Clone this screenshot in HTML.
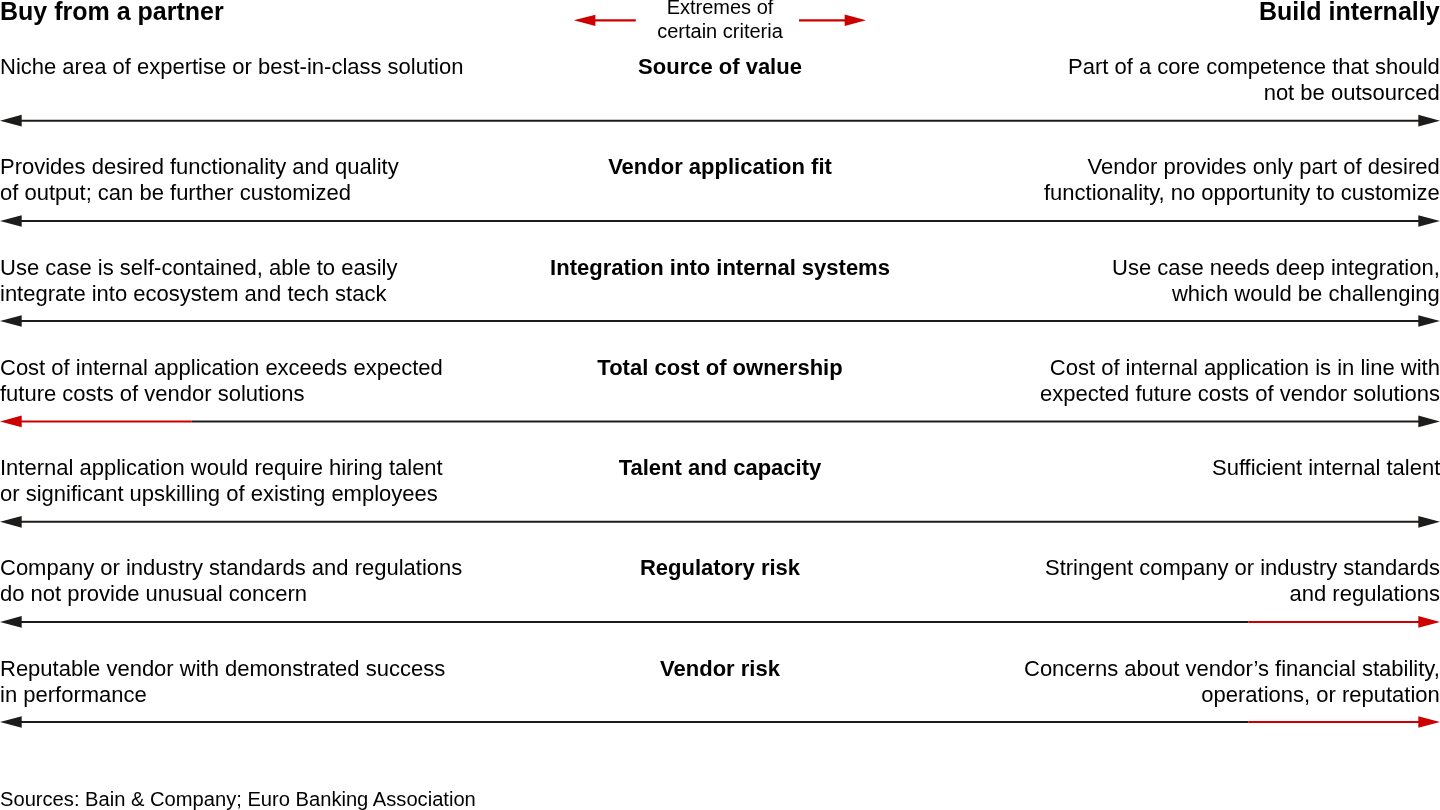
<!DOCTYPE html>
<html><head><meta charset="utf-8"><style>
html,body{margin:0;padding:0;background:#fff;}
body{width:1440px;height:810px;position:relative;overflow:hidden;font-family:"Liberation Sans",sans-serif;color:#000;}
.t{position:absolute;font-size:22px;line-height:26px;white-space:nowrap;}
.l{left:0px;text-align:left;}
.r{right:0px;text-align:right;}
.c{left:420px;width:600px;text-align:center;font-weight:bold;}
.h{position:absolute;font-size:25px;line-height:30px;font-weight:bold;top:-4px;white-space:nowrap;}
.ex{position:absolute;left:620px;width:200px;text-align:center;font-size:20px;line-height:24px;top:-5px;}
.src{position:absolute;left:0;top:786.5px;font-size:20.15px;line-height:24px;white-space:nowrap;}
svg{position:absolute;left:0;top:0;}
.t,.h,.ex,.src{will-change:transform;}
</style></head><body>
<div class="h" style="left:0">Buy from a partner</div>
<div class="h" style="right:0">Build internally</div>
<div class="ex">Extremes of<br>certain criteria</div>
<div class="t l" style="top:54px">Niche area of expertise or best-in-class solution</div>
<div class="t c" style="top:54px">Source of value</div>
<div class="t r" style="top:54px">Part of a core competence that should<br>not be outsourced</div>
<div class="t l" style="top:154px">Provides desired functionality and quality<br>of output; can be further customized</div>
<div class="t c" style="top:154px">Vendor application fit</div>
<div class="t r" style="top:154px">Vendor provides only part of desired<br>functionality, no opportunity to customize</div>
<div class="t l" style="top:255px">Use case is self-contained, able to easily<br>integrate into ecosystem and tech stack</div>
<div class="t c" style="top:255px">Integration into internal systems</div>
<div class="t r" style="top:255px">Use case needs deep integration,<br>which would be challenging</div>
<div class="t l" style="top:355px">Cost of internal application exceeds expected<br>future costs of vendor solutions</div>
<div class="t c" style="top:355px">Total cost of ownership</div>
<div class="t r" style="top:355px">Cost of internal application is in line with<br>expected future costs of vendor solutions</div>
<div class="t l" style="top:455px">Internal application would require hiring talent<br>or significant upskilling of existing employees</div>
<div class="t c" style="top:455px">Talent and capacity</div>
<div class="t r" style="top:455px">Sufficient internal talent</div>
<div class="t l" style="top:555px">Company or industry standards and regulations<br>do not provide unusual concern</div>
<div class="t c" style="top:555px">Regulatory risk</div>
<div class="t r" style="top:555px">Stringent company or industry standards<br>and regulations</div>
<div class="t l" style="top:655.5px">Reputable vendor with demonstrated success<br>in performance</div>
<div class="t c" style="top:655.5px">Vendor risk</div>
<div class="t r" style="top:655.5px">Concerns about vendor&#8217;s financial stability,<br>operations, or reputation</div>
<div class="src">Sources: Bain &amp; Company; Euro Banking Association</div>
<svg width="1440" height="810" viewBox="0 0 1440 810">
<line x1="20" y1="120.7" x2="1420" y2="120.7" stroke="#1e1c1a" stroke-width="2"/>
<polygon points="0,120.7 21.7,114.85000000000001 21.7,126.55" fill="#1e1c1a"/>
<polygon points="1440,120.7 1418.3,114.85000000000001 1418.3,126.55" fill="#1e1c1a"/>
<line x1="20" y1="221.0" x2="1420" y2="221.0" stroke="#1e1c1a" stroke-width="2"/>
<polygon points="0,221.0 21.7,215.15 21.7,226.85" fill="#1e1c1a"/>
<polygon points="1440,221.0 1418.3,215.15 1418.3,226.85" fill="#1e1c1a"/>
<line x1="20" y1="321.0" x2="1420" y2="321.0" stroke="#1e1c1a" stroke-width="2"/>
<polygon points="0,321.0 21.7,315.15 21.7,326.85" fill="#1e1c1a"/>
<polygon points="1440,321.0 1418.3,315.15 1418.3,326.85" fill="#1e1c1a"/>
<line x1="20" y1="421.4" x2="191.5" y2="421.4" stroke="#cc0000" stroke-width="2"/>
<line x1="191.5" y1="421.4" x2="1420" y2="421.4" stroke="#1e1c1a" stroke-width="2"/>
<polygon points="0,421.4 21.7,415.54999999999995 21.7,427.25" fill="#cc0000"/>
<polygon points="1440,421.4 1418.3,415.54999999999995 1418.3,427.25" fill="#1e1c1a"/>
<line x1="20" y1="521.8" x2="1420" y2="521.8" stroke="#1e1c1a" stroke-width="2"/>
<polygon points="0,521.8 21.7,515.9499999999999 21.7,527.65" fill="#1e1c1a"/>
<polygon points="1440,521.8 1418.3,515.9499999999999 1418.3,527.65" fill="#1e1c1a"/>
<line x1="20" y1="621.9" x2="1248.3" y2="621.9" stroke="#1e1c1a" stroke-width="2"/>
<line x1="1248.3" y1="621.9" x2="1420" y2="621.9" stroke="#cc0000" stroke-width="2"/>
<polygon points="0,621.9 21.7,616.05 21.7,627.75" fill="#1e1c1a"/>
<polygon points="1440,621.9 1418.3,616.05 1418.3,627.75" fill="#cc0000"/>
<line x1="20" y1="722.0" x2="1248.3" y2="722.0" stroke="#1e1c1a" stroke-width="2"/>
<line x1="1248.3" y1="722.0" x2="1420" y2="722.0" stroke="#cc0000" stroke-width="2"/>
<polygon points="0,722.0 21.7,716.15 21.7,727.85" fill="#1e1c1a"/>
<polygon points="1440,722.0 1418.3,716.15 1418.3,727.85" fill="#cc0000"/>
<line x1="590" y1="20.3" x2="635.8" y2="20.3" stroke="#cc0000" stroke-width="2.2"/>
<polygon points="573.8,20.3 595.4,14.700000000000001 595.4,25.9" fill="#cc0000"/>
<line x1="799" y1="20.3" x2="850" y2="20.3" stroke="#cc0000" stroke-width="2.2"/>
<polygon points="866,20.3 844.7,14.600000000000001 844.7,26.0" fill="#cc0000"/>
</svg>
</body></html>
